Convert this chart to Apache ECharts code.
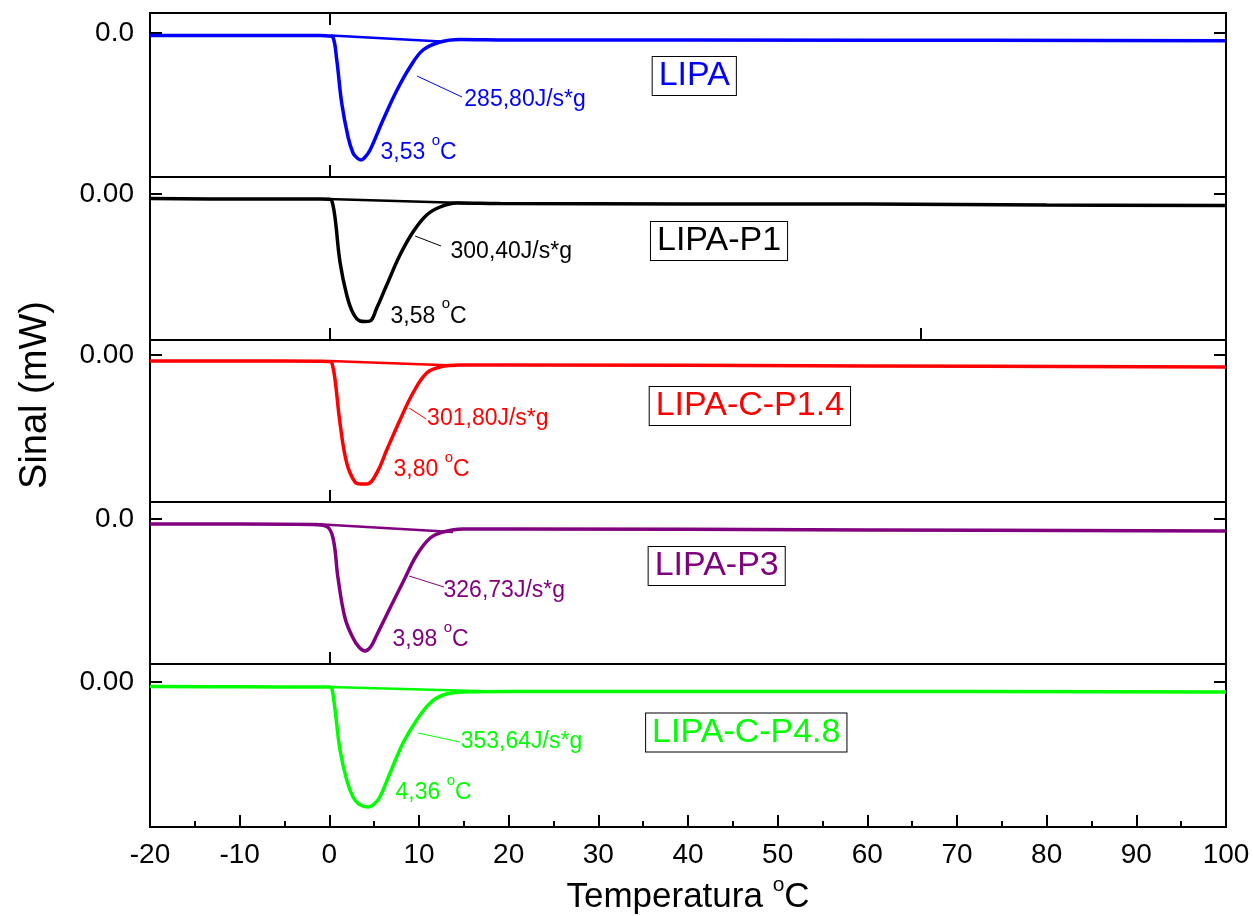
<!DOCTYPE html>
<html><head><meta charset="utf-8">
<script src="https://cdn.jsdelivr.net/npm/echarts@6/dist/echarts.min.js"></script>
<style>html,body{margin:0;padding:0;background:#fff}#c{width:1253px;height:916px}</style>
</head><body><div id="c"></div>
<script>
// ---------- data ----------
const xTickLabels = [-20,-10,0,10,20,30,40,50,60,70,80,90,100];
const sampleNames = ['LIPA','LIPA-P1','LIPA-C-P1.4','LIPA-P3','LIPA-C-P4.8'];
const yTickLabels = ['0.0','0.00','0.00','0.0','0.00'];
const enthalpy = ['285,80J/s*g','300,40J/s*g','301,80J/s*g','326,73J/s*g','353,64J/s*g'];
const peakTemp = ['3,53','3,58','3,80','3,98','4,36'];

const lipa = [[-20,-0.025],[-10,-0.025],[-1,-0.025],[0,-0.03],[0.4,-0.04],[0.83,-0.27],[1.38,-0.70],[2.09,-1.04],[2.64,-1.20],[3.1,-1.25],[3.53,-1.27],[4.0,-1.24],[4.54,-1.17],[5.99,-0.87],[7.55,-0.57],[9.0,-0.34],[10.45,-0.17],[12.35,-0.09],[14.58,-0.065],[20,-0.07],[60,-0.072],[100,-0.077]];
const lipaP1 = [[-20,-0.045],[-10,-0.05],[-1,-0.05],[0,-0.052],[0.27,-0.065],[0.64,-0.24],[1.19,-0.68],[1.94,-1.01],[2.64,-1.19],[3.42,-1.27],[3.98,-1.275],[4.54,-1.27],[5.29,-1.14],[6.40,-0.91],[7.88,-0.61],[9.33,-0.38],[10.86,-0.21],[12.35,-0.13],[14.2,-0.09],[19,-0.095],[40,-0.10],[60,-0.10],[80,-0.11],[100,-0.115]];
const lipaCP14 = [[-20,-0.06],[-10,-0.06],[-1,-0.062],[0,-0.065],[0.27,-0.075],[0.64,-0.25],[1.19,-0.68],[1.94,-1.08],[2.86,-1.27],[3.5,-1.29],[4.2,-1.29],[5.29,-1.18],[6.40,-0.95],[7.88,-0.65],[9.33,-0.38],[10.86,-0.18],[12.35,-0.12],[14.58,-0.10],[20,-0.10],[60,-0.11],[100,-0.12]];
const lipaP3 = [[-20,-0.05],[-10,-0.05],[-2,-0.055],[-0.3,-0.075],[0.41,-0.19],[0.97,-0.59],[1.75,-0.99],[2.64,-1.19],[3.3,-1.28],[3.98,-1.32],[4.6,-1.28],[5.29,-1.16],[6.77,-0.89],[8.22,-0.63],[9.75,-0.36],[11.25,-0.19],[12.7,-0.13],[14.9,-0.10],[20,-0.10],[60,-0.11],[100,-0.12]];
const lipaCP48 = [[-20,-0.045],[-10,-0.048],[-1,-0.05],[0,-0.05],[0.27,-0.06],[0.64,-0.28],[1.19,-0.68],[1.94,-0.98],[2.64,-1.15],[3.3,-1.22],[4.32,-1.25],[5.0,-1.22],[5.64,-1.15],[6.77,-0.91],[8.22,-0.61],[9.75,-0.38],[11.25,-0.21],[12.7,-0.13],[14.9,-0.10],[20,-0.095],[60,-0.095],[100,-0.10]];

const lipaBase = [[0.2,-0.025],[12.5,-0.085]];
const lipaP1Base = [[-0.2,-0.05],[17,-0.095]];
const lipaCP14Base = [[0,-0.06],[14,-0.105]];
const lipaP3Base = [[-1.6,-0.05],[13.8,-0.13]];
const lipaCP48Base = [[0,-0.05],[18.5,-0.095]];

const curves = [lipa, lipaP1, lipaCP14, lipaP3, lipaCP48];
const baselines = [lipaBase, lipaP1Base, lipaCP14Base, lipaP3Base, lipaCP48Base];

// ---------- layout / style ----------
const colors = ['#0000ff','#000000','#ff0000','#800080','#00ff00'];
const panels = [[13,177],[177,340],[340,502],[502,664],[664,827]];
const yRange = [[-1.44,0.20],[-1.46,0.17],[-1.47,0.15],[-1.45,0.17],[-1.45,0.18]];
const leaderPos = [[[9.78,-0.43],[14.8,-0.64]],[[9.56,-0.42],[12.46,-0.52]],[[8.9,-0.53],[10.8,-0.64]],[[8.89,-0.57],[12.79,-0.68]],[[9.89,-0.51],[14.57,-0.60]]];
const enthalpyPos = [[15.0,-0.67],[13.46,-0.577],[10.85,-0.64],[12.68,-0.72],[14.6,-0.60]];
const tempPos = [[5.65,-1.20],[6.77,-1.227],[7.1,-1.15],[6.99,-1.21],[7.33,-1.11]];
const namePos = [[40.7,-0.43],[43.46,-0.47],[46.9,-0.51],[43.2,-0.47],[46.5,-0.505]];
const FONT = 'Liberation Sans, Arial, sans-serif';

const tickStyle = {color:'#000', width:2};
const grid = [], xAxis = [], yAxis = [], series = [];
panels.forEach((p, i) => {
  grid.push({left:150, right:27, top:p[0], height:p[1]-p[0], show:true, borderColor:'#000', borderWidth:2, backgroundColor:'transparent'});
  const last = i === panels.length - 1;
  const bottomTicks = i === 1 ? [0, 66] : [0];
  xAxis.push({
    type:'value', gridIndex:i, position:'bottom', min:-20, max:100, interval:10,
    axisLine:{show:false, onZero:false},
    axisTick: last ? {show:true, inside:true, length:12, lineStyle:tickStyle}
                   : {show:true, inside:true, length:12, customValues:bottomTicks, lineStyle:tickStyle},
    minorTick: last ? {show:true, splitNumber:2, length:6, lineStyle:tickStyle} : {show:false},
    axisLabel: last ? {show:true, fontSize:28, color:'#000', fontFamily:FONT, margin:14,
                       formatter: v => xTickLabels.includes(v) ? String(v) : ''} : {show:false},
    splitLine:{show:false},
    name: last ? '{t|Temperatura }{s|o}{t|C}' : '',
    nameLocation:'middle', nameGap:48,
    nameTextStyle:{rich:{t:{fontSize:35, fontFamily:FONT, color:'#000', lineHeight:44}, s:{fontSize:21, fontFamily:FONT, color:'#000', verticalAlign:'top', lineHeight:21}}}
  });
  if (i === 0) {
    xAxis.push({type:'value', gridIndex:i, position:'top', min:-20, max:100, interval:10,
      axisLine:{show:false, onZero:false}, axisTick:{show:true, inside:true, length:12, customValues:[0], lineStyle:tickStyle},
      axisLabel:{show:false}, splitLine:{show:false}});
  }
  yAxis.push({
    type:'value', gridIndex:i, position:'left', min:yRange[i][0], max:yRange[i][1],
    axisLine:{show:false, onZero:false},
    axisTick:{show:true, inside:true, length:12, customValues:[0], lineStyle:tickStyle},
    axisLabel:{show:true, customValues:[0], formatter:() => yTickLabels[i], fontSize:28, color:'#000', fontFamily:FONT, margin:16},
    splitLine:{show:false}
  });
  yAxis.push({
    type:'value', gridIndex:i, position:'right', min:yRange[i][0], max:yRange[i][1],
    axisLine:{show:false, onZero:false},
    axisTick:{show:true, inside:true, length:12, customValues:[0], lineStyle:tickStyle},
    axisLabel:{show:false}, splitLine:{show:false}
  });
});

panels.forEach((p, i) => {
  const xIdx = i === 0 ? 0 : i + 1;
  const yIdx = i * 2;
  const c = colors[i];
  series.push({type:'line', xAxisIndex:xIdx, yAxisIndex:yIdx, data:curves[i], smooth:0.4, symbol:'none',
    lineStyle:{color:c, width:3.5}, silent:true, z:3});
  series.push({type:'line', xAxisIndex:xIdx, yAxisIndex:yIdx, data:baselines[i], symbol:'none',
    lineStyle:{color:c, width:2.5}, silent:true, z:3});
  series.push({type:'line', xAxisIndex:xIdx, yAxisIndex:yIdx, data:leaderPos[i], symbol:'none',
    lineStyle:{color:c, width:1}, silent:true, z:3});
  series.push({type:'scatter', xAxisIndex:xIdx, yAxisIndex:yIdx, symbolSize:1, itemStyle:{color:'transparent', opacity:1}, silent:true, z:5,
    data:[
      {value:enthalpyPos[i], label:{show:true, position:'right', distance:0, formatter:enthalpy[i], fontSize:23, color:c, fontFamily:FONT, opacity:1}},
      {value:tempPos[i], label:{show:true, position:'right', distance:0, formatter:'{a|' + peakTemp[i] + ' }{s|o}{a|C}', opacity:1,
        rich:{a:{fontSize:23, color:c, fontFamily:FONT, lineHeight:40}, s:{fontSize:15, color:c, fontFamily:FONT, verticalAlign:'top', lineHeight:15}}}},
      {value:namePos[i], label:{show:true, position:'inside', formatter:sampleNames[i], fontSize:34, color:c, fontFamily:FONT, opacity:1,
        borderColor:'#000', borderWidth:1, padding:[3,6,1,6], backgroundColor:'#fff'}}
    ]});
});

const chart = echarts.init(document.getElementById('c'), null, {renderer:'canvas'});
chart.setOption({
  animation:false,
  backgroundColor:'#fff',
  grid, xAxis, yAxis, series,
  graphic:[{type:'text', x:36, y:395, rotation:Math.PI/2,
    style:{text:'Sinal (mW)', fontSize:38, fontFamily:FONT, fill:'#000', align:'center', verticalAlign:'middle'}}]
});
</script></body></html>
